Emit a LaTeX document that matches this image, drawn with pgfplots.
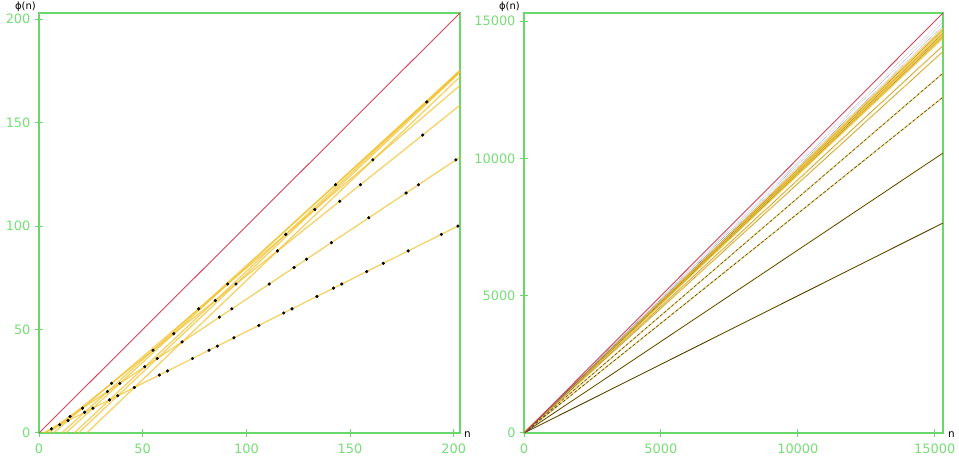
\documentclass[border=0pt]{standalone}
\usepackage{pgfplots}
\pgfplotsset{compat=1.18}
\usepackage{fontspec}
\setmainfont{DejaVu Sans}
\definecolor{axgreen}{RGB}{105,215,105}
\definecolor{lblgreen}{RGB}{120,222,120}
\definecolor{phired}{RGB}{212,68,92}
\definecolor{gold}{RGB}{240,192,40}
\pgfplotsset{
  phiaxis/.style={
    scale only axis, height=420bp,
    axis line style={axgreen, line width=1.1bp},
    every tick/.style={axgreen, line width=1bp},
    tick align=center, major tick length=8bp,
    xtick pos=bottom, ytick pos=left,
    scaled ticks=false,
    ticklabel style={font=\fontsize{13}{15}\selectfont, text=lblgreen},
    /pgf/number format/assume math mode=true,
    /pgf/number format/set thousands separator={},
    xticklabel style={yshift=-3.5bp},
    yticklabel style={xshift=-1bp},
    clip=true,
    yellowline/.style={gold, opacity=0.7, line width=1.3bp},
    redline/.style={phired, line width=0.9bp},
  }
}
\begin{document}
\begin{tikzpicture}[x=1bp,y=1bp]
\path[use as bounding box] (0,0) rectangle (959,463);
% ---------------- left panel ----------------
\begin{axis}[phiaxis, width=421bp, at={(39bp,30bp)}, anchor=south west,
  xmin=0, xmax=203, ymin=0, ymax=203,
  xtick={0,50,100,150,200}, ytick={0,50,100,150,200}]
\addplot[yellowline] coordinates {(2,0) (203,100.5)};
\addplot[yellowline] coordinates {(3,0) (203,133.33)};
\addplot[yellowline] coordinates {(5,0) (203,158.4)};
\addplot[yellowline] coordinates {(7,0) (203,168)};
\addplot[yellowline] coordinates {(11,0) (203,174.55)};
\addplot[yellowline] coordinates {(13,0) (203,175.38)};
\addplot[yellowline] coordinates {(17,0) (203,175.06)};
\addplot[yellowline] coordinates {(19,0) (203,174.32)};
\addplot[yellowline] coordinates {(23,0) (203,172.17)};
\addplot[redline] coordinates {(0,0) (203,203)};
\addplot[only marks, mark=*, mark size=1.4bp, black] coordinates {
(6,2) (10,4) (14,6) (15,8) (21,12) (22,10) (26,12) (33,20) (34,16) (35,24)
(38,18) (39,24) (46,22) (51,32) (55,40) (57,36) (58,28) (62,30) (65,48) (69,44)
(74,36) (77,60) (82,40) (85,64) (86,42) (87,56) (91,72) (93,60) (94,46) (95,72)
(106,52) (111,72) (115,88) (118,58) (119,96) (122,60) (123,80) (129,84) (133,108)
(134,66) (141,92) (142,70) (143,120) (145,112) (146,72) (155,120) (158,78)
(159,104) (161,132) (166,82) (177,116) (178,88) (183,120) (185,144) (187,160)
(194,96) (201,132) (202,100)};
\end{axis}
\node[anchor=south east, inner sep=0pt, font=\fontsize{10}{11}\selectfont] at (36,451) {ϕ(n)};
\node[anchor=west, inner sep=0pt, font=\fontsize{10.5}{11}\selectfont] at (464,28) {n};
% ---------------- right panel ----------------
\begin{axis}[phiaxis, width=419bp, at={(524bp,30bp)}, anchor=south west,
  xmin=0, xmax=15300, ymin=0, ymax=15300,
  xtick={0,5000,10000,15000}, ytick={0,5000,10000,15000}]
\addplot[yellowline] coordinates {(0,0) (15300,7649)};
\addplot[yellowline] coordinates {(0,0) (15300,10198)};
\addplot[yellowline] coordinates {(0,0) (15300,12236)};
\addplot[yellowline] coordinates {(0,0) (15300,13108)};
\addplot[yellowline] coordinates {(0,0) (15300,13900)};
\addplot[yellowline] coordinates {(0,0) (15300,14111)};
\addplot[yellowline] coordinates {(0,0) (15300,14384)};
\addplot[yellowline] coordinates {(0,0) (15300,14477)};
\addplot[yellowline] coordinates {(0,0) (15300,14613)};
\addplot[yellowline] coordinates {(0,0) (15300,14745)};
\addplot[yellowline] coordinates {(0,0) (15300,14520)};
\addplot[yellowline] coordinates {(0,0) (15300,14560)};
\addplot[yellowline] coordinates {(0,0) (15300,14680)};
\addplot[yellowline] coordinates {(0,0) (15300,14430)};
\addplot[black!85, line width=0.6bp] coordinates {(0,0) (15300,7649)};
\addplot[black!85, line width=0.5bp] coordinates {(0,0) (15300,10198)};
\addplot[black!80, line width=0.5bp, densely dashed] coordinates {(0,0) (15300,12236)};
\addplot[black!75, line width=0.5bp, densely dashed] coordinates {(0,0) (15300,13108)};
\addplot[black!65, line width=0.4bp, densely dotted] coordinates {(0,0) (15300,13900)};
\addplot[black!65, line width=0.4bp, densely dotted] coordinates {(0,0) (15300,14111)};
\addplot[black!65, line width=0.4bp, densely dotted] coordinates {(0,0) (15300,14450)};
\addplot[black!65, line width=0.4bp, densely dotted] coordinates {(0,0) (15300,14560)};
\addplot[black!65, line width=0.4bp, densely dotted] coordinates {(0,0) (15300,14680)};
\addplot[gray!70!blue, line width=0.45bp, densely dotted] coordinates {(0,0) (15300,14830)};
\addplot[gray!70!blue, line width=0.45bp, densely dotted] coordinates {(0,0) (15300,14960)};
\addplot[gray!80, line width=0.45bp, densely dotted] coordinates {(0,0) (15300,15090)};
\addplot[redline] coordinates {(0,0) (15300,15300)};
\end{axis}
\node[anchor=south east, inner sep=0pt, font=\fontsize{10}{11}\selectfont] at (520,451) {ϕ(n)};
\node[anchor=west, inner sep=0pt, font=\fontsize{10.5}{11}\selectfont] at (948,28) {n};
\end{tikzpicture}
\end{document}
